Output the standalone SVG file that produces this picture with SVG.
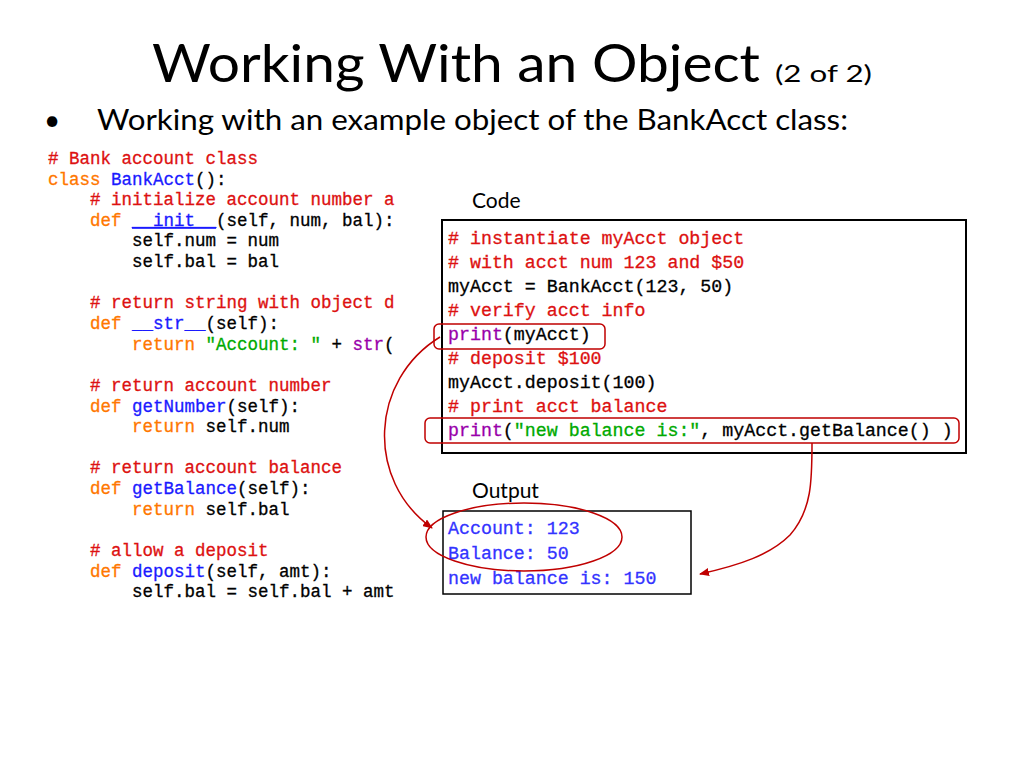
<svg xmlns="http://www.w3.org/2000/svg" width="1024" height="768" viewBox="0 0 1024 768">
<defs>
<style>
.t{font-family:Lato,"Open Sans",sans-serif;fill:#000}
.c{font-family:"Liberation Mono","Courier New",monospace;font-size:17.5px;fill:#000;stroke:#000;stroke-width:0.3}
.d{font-family:"Liberation Mono","Courier New",monospace;font-size:18.3px;fill:#000;stroke-width:0.3}
.cm{fill:#dd1111;stroke:#dd1111}
.kw{fill:#ff7700;stroke:#ff7700}
.fn{fill:#1a1aff;stroke:#1a1aff}
.st{fill:#00aa00;stroke:#00aa00}
.bi{fill:#9900aa;stroke:#9900aa}
.o{fill:#3333ff;stroke:#3333ff}
.hl{fill:none;stroke:#c00000;stroke-width:1.5}
</style>
<marker id="ah" markerWidth="10" markerHeight="8" refX="9" refY="4" orient="auto" markerUnits="userSpaceOnUse"><path d="M0,0 L10,4 L0,8 Z" fill="#c00000"/></marker>
</defs>
<rect width="1024" height="768" fill="#fff"/>
<text class="t" x="152" y="82" font-size="52" textLength="608" lengthAdjust="spacingAndGlyphs">Working With an Object</text>
<text class="t" x="775" y="82" font-size="24" textLength="97" lengthAdjust="spacingAndGlyphs">(2 of 2)</text>
<text class="t" x="44" y="130" font-size="28">•</text>
<text class="t" x="97" y="130" font-size="29" textLength="751" lengthAdjust="spacingAndGlyphs">Working with an example object of the BankAcct class:</text>
<g id="classcode" class="c" xml:space="preserve">
<text x="48" y="164" class="cm"># Bank account class</text>
<text x="48" y="185"><tspan class="kw">class</tspan> <tspan class="fn">BankAcct</tspan>():</text>
<text x="90" y="205" class="cm"># initialize account number a</text>
<text x="90" y="226"><tspan class="kw">def</tspan> <tspan class="fn" text-decoration="underline">__init__</tspan>(self, num, bal):</text>
<text x="132" y="246">self.num = num</text>
<text x="132" y="267">self.bal = bal</text>
<text x="90" y="308" class="cm"># return string with object d</text>
<text x="90" y="329"><tspan class="kw">def</tspan> <tspan class="fn">__str__</tspan>(self):</text>
<text x="132" y="350"><tspan class="kw">return</tspan> <tspan class="st">"Account: "</tspan> + <tspan class="bi">str</tspan>(</text>
<text x="90" y="391" class="cm"># return account number</text>
<text x="90" y="412"><tspan class="kw">def</tspan> <tspan class="fn">getNumber</tspan>(self):</text>
<text x="132" y="432"><tspan class="kw">return</tspan> self.num</text>
<text x="90" y="473" class="cm"># return account balance</text>
<text x="90" y="494"><tspan class="kw">def</tspan> <tspan class="fn">getBalance</tspan>(self):</text>
<text x="132" y="515"><tspan class="kw">return</tspan> self.bal</text>
<text x="90" y="556" class="cm"># allow a deposit</text>
<text x="90" y="577"><tspan class="kw">def</tspan> <tspan class="fn">deposit</tspan>(self, amt):</text>
<text x="132" y="597">self.bal = self.bal + amt</text>
</g>
<text class="t" x="472" y="208" font-size="21">Code</text>
<g id="codebox">
<rect x="442" y="220" width="524" height="233" fill="#fff" stroke="#000" stroke-width="2"/>
<g class="d" xml:space="preserve">
<text x="448" y="244" class="cm"># instantiate myAcct object</text>
<text x="448" y="268" class="cm"># with acct num 123 and $50</text>
<text x="448" y="292" stroke="#000">myAcct = BankAcct(123, 50)</text>
<text x="448" y="316" class="cm"># verify acct info</text>
<text x="448" y="340" stroke="#000"><tspan class="bi">print</tspan>(myAcct)</text>
<text x="448" y="364" class="cm"># deposit $100</text>
<text x="448" y="388" stroke="#000">myAcct.deposit(100)</text>
<text x="448" y="412" class="cm"># print acct balance</text>
<text x="448" y="436" stroke="#000"><tspan class="bi">print</tspan>(<tspan class="st">"new balance is:"</tspan>, myAcct.getBalance() )</text>
</g>
<rect x="434" y="324" width="171" height="25" rx="5" class="hl"/>
<rect x="425" y="418" width="534" height="25" rx="5" class="hl"/>
</g>
<text class="t" x="472" y="498" font-size="21">Output</text>
<g id="outbox">
<rect x="443" y="511" width="248" height="83" fill="#fff" stroke="#000" stroke-width="1.5"/>
<g class="d" xml:space="preserve">
<text x="448" y="534" class="o">Account: 123</text>
<text x="448" y="559" class="o">Balance: 50</text>
<text x="448" y="584" class="o">new balance is: 150</text>
</g>
<ellipse cx="524" cy="537" rx="98" ry="34" class="hl"/>
</g>
<g id="connectors" fill="none" stroke="#c00000" stroke-width="1.5">
<path d="M440,337 C370,380 365,480 432,528" marker-end="url(#ah)"/>
<path d="M812,443 C812,480 812,510 790,535 C770,555 740,565 700,574" marker-end="url(#ah)"/>
</g>
</svg>
